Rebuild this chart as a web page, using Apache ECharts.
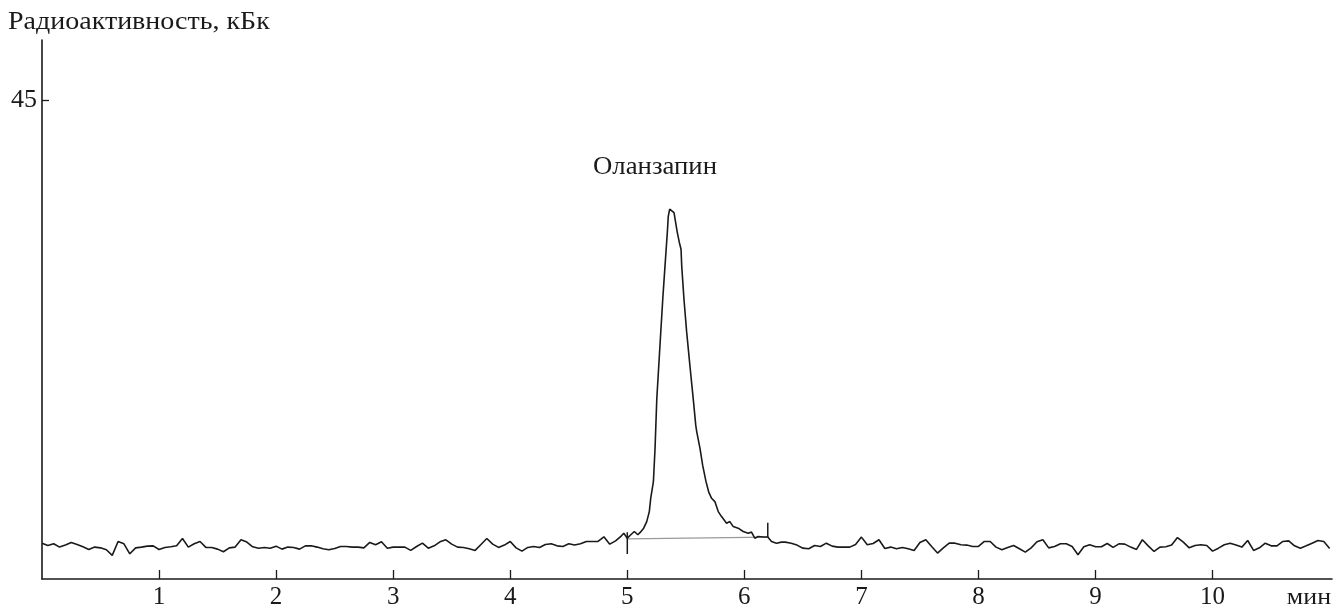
<!DOCTYPE html>
<html>
<head>
<meta charset="utf-8">
<script src="https://cdn.jsdelivr.net/npm/echarts@6/dist/echarts.min.js"></script>
<style>html,body{margin:0;padding:0;background:#fff}#c{width:1333px;height:610px}</style>
</head>
<body>
<div id="c"></div>
<script>
// ---- data ----
const noiseStep = 0.05;
const leftNoiseStart = 0;
const leftNoise = [
3.37,3.15,3.31,3.00,3.19,3.44,3.25,3.03,2.78,3.00,
2.93,2.75,2.22,3.53,3.31,2.37,2.93,3.00,3.09,3.12,
2.78,2.97,3.03,3.12,3.81,3.00,3.31,3.53,2.97,2.97,
2.81,2.56,2.93,3.00,3.69,3.47,3.03,2.90,2.97,2.90,
3.09,2.81,3.00,2.97,2.81,3.12,3.12,3.00,2.84,2.75,
2.87,3.06,3.06,3.00,3.00,2.93,3.44,3.22,3.50,2.90,
3.00,3.00,3.00,2.69,3.06,3.37,2.90,3.12,3.50,3.69,
3.28,3.00,2.97,2.84,2.69,3.25,3.81,3.28,2.97,3.19,
3.53,2.93,2.62,2.97,3.06,2.97,3.25,3.31,3.12,3.06,
3.31,3.19,3.31,3.53,3.53,3.53,3.97,3.28,3.59,4.06
];
const peakTimes = [
4.97,5.00,5.03,5.06,5.09,5.11,5.14,5.166,5.188,5.20,
5.223,5.237,5.252,5.286,5.303,5.322,5.342,5.350,5.362,5.378,
5.399,5.427,5.444,5.459,5.465,5.484,5.507,5.535,5.563,5.585,
5.593,5.621,5.644,5.672,5.695,5.72,5.748,5.777,5.805,5.819,
5.848,5.876,5.905,5.947,5.99,6.033,6.061,6.089,6.118,6.16,
6.20,6.232,6.274,6.317
];
const peakValues = [
4.31,3.84,4.16,4.47,4.16,4.38,4.78,5.40,6.34,7.59,
9.15,12.28,16.96,23.24,26.34,29.43,32.61,34.11,34.80,34.85,
34.46,32.61,31.68,31.02,29.43,26.34,23.24,20.06,16.96,14.45,
13.87,12.28,10.68,9.18,8.20,7.59,7.28,6.34,5.87,6.03,
5.25,5.40,4.93,4.78,4.47,4.31,4.41,3.84,4.00,3.95,
3.95,3.53,3.37,3.47
];
const rightNoiseStart = 6.35;
const rightNoise = [
3.47,3.37,3.19,2.90,2.84,3.15,3.06,3.37,3.09,3.00,
3.00,3.00,3.25,3.94,3.22,3.34,3.69,2.87,3.00,2.84,
2.97,2.84,2.69,3.44,3.69,3.06,2.44,2.93,3.37,3.37,
3.22,3.19,3.06,3.06,3.53,3.53,3.00,2.75,2.97,3.15,
2.84,2.53,2.93,3.50,3.69,2.93,3.06,3.31,3.31,3.06,
2.28,3.03,3.22,3.03,3.03,3.34,2.97,3.31,3.28,3.00,
2.78,3.69,3.12,2.59,3.00,3.03,3.19,3.90,3.47,2.93,
3.15,3.22,3.15,2.62,2.90,3.22,3.37,3.19,3.00,3.62,
2.69,2.93,3.37,3.12,3.12,3.53,3.59,3.12,2.90,3.12,
3.37,3.62,3.53,2.87
];
// integration baseline and its start / end markers
const baselineLine = [[5.00, 3.78], [6.20, 3.93]];
const startMarker = [[5.00, 4.40], [5.00, 2.35]];
const endMarker = [[6.20, 5.30], [6.20, 3.95]];
const xTickValues = [1, 2, 3, 4, 5, 6, 7, 8, 9, 10];
const yTickValues = [45];
const peakName = 'Оланзапин';
const yTitle = 'Радиоактивность, кБк';
const xUnit = 'мин';

// ---- build the trace ----
const trace = [];
leftNoise.forEach((v, i) => trace.push([+(leftNoiseStart + i * noiseStep).toFixed(3), v]));
peakTimes.forEach((t, i) => trace.push([t, peakValues[i]]));
rightNoise.forEach((v, i) => trace.push([+(rightNoiseStart + i * noiseStep).toFixed(3), v]));

const FONT = 'Liberation Serif';
const INK = '#1a1a1a';
const chart = echarts.init(document.getElementById('c'), null, {renderer: 'canvas'});
chart.setOption({
  animation: false,
  backgroundColor: '#fff',
  grid: {left: 42, right: 1, top: 40, bottom: 29, containLabel: false},
  xAxis: {
    type: 'value', min: 0, max: 11.02,
    axisLine: {show: true, onZero: false, lineStyle: {color: INK, width: 1.6}},
    axisTick: {show: true, inside: true, length: 9, customValues: xTickValues, lineStyle: {color: INK, width: 1.3}},
    axisLabel: {show: true, customValues: xTickValues, margin: 6, fontFamily: FONT, fontSize: 25, color: INK},
    splitLine: {show: false}
  },
  yAxis: {
    type: 'value', min: 0, max: 50.7,
    axisLine: {show: true, onZero: false, lineStyle: {color: INK, width: 1.6}},
    axisTick: {show: true, inside: true, length: 7, customValues: yTickValues, lineStyle: {color: INK, width: 1.3}},
    axisLabel: {show: true, customValues: yTickValues, margin: 5, fontFamily: FONT, fontSize: 26, color: INK},
    splitLine: {show: false}
  },
  series: [
    {type: 'line', data: trace, showSymbol: false, smooth: false,
     lineStyle: {color: INK, width: 1.6}, z: 3},
    {type: 'line', data: baselineLine, showSymbol: false,
     lineStyle: {color: '#9a9a9a', width: 1.2}, z: 2},
    {type: 'line', data: startMarker, showSymbol: false,
     lineStyle: {color: INK, width: 1.5}, z: 4},
    {type: 'line', data: endMarker, showSymbol: false,
     lineStyle: {color: INK, width: 1.5}, z: 4}
  ],
  graphic: [
    {type: 'text', x: 8, y: 22, scaleX: 1.12, originX: 0, style: {text: yTitle, fontFamily: FONT, fontSize: 25, fill: INK, align: 'left', verticalAlign: 'middle'}},
    {type: 'text', x: 655, y: 167, scaleX: 1.07, style: {text: peakName, fontFamily: FONT, fontSize: 25, fill: INK, align: 'center', verticalAlign: 'middle'}},
    {type: 'text', x: 1331, y: 598, scaleX: 1.08, style: {text: xUnit, fontFamily: FONT, fontSize: 24, fill: INK, align: 'right', verticalAlign: 'middle'}}
  ]
});
</script>
</body>
</html>
